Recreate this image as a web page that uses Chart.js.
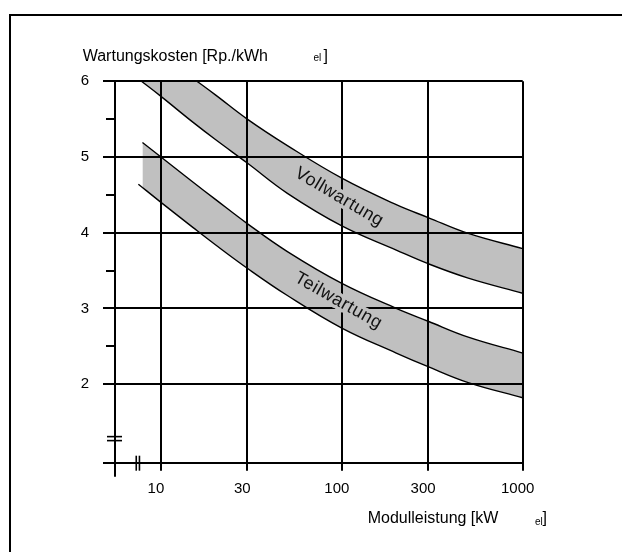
<!DOCTYPE html>
<html><head><meta charset="utf-8">
<script src="https://cdn.jsdelivr.net/npm/chart.js@4/dist/chart.umd.min.js"></script>
<style>
html,body{margin:0;padding:0;background:#fff;}
#wrap{position:relative;width:622px;height:552px;overflow:hidden;}
#frame{position:absolute;left:9px;top:14px;width:700px;height:600px;border-top:2px solid #000;border-left:2px solid #000;pointer-events:none;}
canvas{position:absolute;left:0;top:0;}
</style></head><body>
<div id="wrap"><canvas id="c" width="622" height="552"></canvas><div id="frame"></div></div>
<script>
// ---- data ----
const xVoll = [7.8, 10, 15, 20, 30, 50, 100, 200, 300, 500, 1000];
const vollUpper = [6.55, 6.35, 6.04, 5.82, 5.50, 5.15, 4.72, 4.37, 4.20, 3.99, 3.79];
const vollLower = [6.00, 5.80, 5.46, 5.23, 4.92, 4.52, 4.09, 3.77, 3.59, 3.40, 3.20];
const xTeilUpper = [7.9, 10, 15, 20, 30, 50, 100, 200, 300, 500, 1000];
const teilUpper = [5.19, 5.00, 4.67, 4.44, 4.12, 3.75, 3.33, 3.00, 2.83, 2.62, 2.41];
const xTeilLower = [7.5, 10, 15, 20, 30, 50, 100, 200, 300, 500, 1000];
const teilLower = [4.64, 4.40, 4.07, 3.84, 3.53, 3.17, 2.74, 2.41, 2.23, 2.02, 1.82];
const xTicks = [10, 30, 100, 300, 1000];
const yTicks = [2, 3, 4, 5, 6];
const yMinorTicks = [2.5, 3.5, 4.5, 5.5];
const bandLabels = ['Vollwartung', 'Teilwartung'];
const yTitle = 'Wartungskosten [Rp./kWh';
const xTitle = 'Modulleistung [kW';
const unitSub = 'el';

// ---- axis range / annotation anchors ----
const X_MIN = 5.57, X_MAX = 1000, Y_MIN = 0.962, Y_MAX = 6;
const BREAK_X = 7.45, BREAK_Y = 1.28;
const labelAnchors = [{x: 96.8, y: 4.47, angle: 30.5}, {x: 95.7, y: 3.10, angle: 29.5}];

const pts = (xs, ys) => xs.map((x, i) => ({x, y: ys[i]}));
const BAND = '#c0c0c0';
const FONT = '"Liberation Sans", Arial, sans-serif';

const lineDs = (data, fill) => ({
  data, fill, backgroundColor: BAND, borderColor: '#000', borderWidth: 1.4,
  pointRadius: 0, tension: 0.4, clip: 0.7
});

const decor = {
  id: 'decor',
  afterDraw(chart) {
    const {ctx, chartArea: a, scales: {x, y}} = chart;
    ctx.save();
    ctx.strokeStyle = '#000';
    ctx.lineWidth = 2;
    yMinorTicks.forEach(v => {
      const py = Math.round(y.getPixelForValue(v));
      ctx.beginPath(); ctx.moveTo(a.left - 9, py); ctx.lineTo(a.left, py); ctx.stroke();
    });
    ctx.beginPath(); ctx.moveTo(Math.round(a.left), a.bottom); ctx.lineTo(Math.round(a.left), a.bottom + 14); ctx.stroke();
    // axis breaks
    ctx.lineWidth = 1.6;
    const by = y.getPixelForValue(BREAK_Y);
    [-2, 2].forEach(d => {
      ctx.beginPath(); ctx.moveTo(a.left - 8, by + d); ctx.lineTo(a.left + 7, by + d); ctx.stroke();
    });
    const bx = x.getPixelForValue(BREAK_X);
    [-1.6, 1.6].forEach(d => {
      ctx.beginPath(); ctx.moveTo(bx + d, a.bottom - 7); ctx.lineTo(bx + d, a.bottom + 8); ctx.stroke();
    });
    // band labels
    ctx.font = '18px ' + FONT;
    ctx.textAlign = 'center';
    ctx.textBaseline = 'middle';
    try { ctx.letterSpacing = '0.6px'; } catch (e) {}
    bandLabels.forEach((t, i) => {
      const an = labelAnchors[i];
      ctx.save();
      ctx.translate(x.getPixelForValue(an.x), y.getPixelForValue(an.y));
      ctx.rotate(an.angle * Math.PI / 180);
      ctx.lineJoin = 'round';
      ctx.lineWidth = 7;
      ctx.strokeStyle = BAND;
      ctx.strokeText(t, 0, 0);
      ctx.fillStyle = '#111';
      ctx.fillText(t, 0, 0);
      ctx.restore();
    });
    try { ctx.letterSpacing = '0px'; } catch (e) {}
    // axis titles
    ctx.textAlign = 'left';
    ctx.textBaseline = 'alphabetic';
    ctx.fillStyle = '#000';
    ctx.font = '16px ' + FONT;
    ctx.fillText(yTitle, 82.7, 61);
    ctx.fillText(']', 323.5, 61);
    ctx.fillText(xTitle, 367.7, 522.5);
    ctx.fillText(']', 542.5, 522.5);
    ctx.font = '10px ' + FONT;
    ctx.fillText(unitSub, 313.5, 61);
    ctx.fillText(unitSub, 535, 525);
    ctx.restore();
  }
};

new Chart(document.getElementById('c'), {
  type: 'line',
  data: {
    datasets: [
      lineDs(pts(xVoll, vollLower), false),
      lineDs(pts(xVoll, vollUpper), '-1'),
      lineDs(pts(xTeilLower, teilLower), false),
      lineDs(pts(xTeilUpper, teilUpper), '-1')
    ]
  },
  options: {
    responsive: false,
    animation: false,
    layout: {padding: {left: 0, right: 99.3, top: 81.24, bottom: 0}},
    plugins: {legend: {display: false}, tooltip: {enabled: false}},
    scales: {
      x: {
        type: 'logarithmic', min: X_MIN, max: X_MAX,
        afterBuildTicks: s => { s.ticks = xTicks.map(v => ({value: v})); },
        afterFit: s => { s.height = 89.3; },
        grid: {color: '#000', lineWidth: 2, tickLength: 8, tickColor: '#000', tickWidth: 2, z: 1},
        border: {display: true, color: '#000', width: 2, z: 1},
        ticks: {autoSkip: false, maxRotation: 0, padding: 9, labelOffset: -5, color: '#000',
          font: {family: FONT, size: 15}, callback: v => String(v)}
      },
      y: {
        type: 'linear', min: Y_MIN, max: Y_MAX,
        afterBuildTicks: s => { s.ticks = [Y_MIN, ...yTicks].map(v => ({value: v})); },
        afterFit: s => { s.width = 115; },
        grid: {color: '#000', lineWidth: 2, tickLength: 12, tickColor: '#000', tickWidth: 2, z: 1},
        border: {display: true, color: '#000', width: 2, z: 1},
        ticks: {padding: 14, color: '#000', font: {family: FONT, size: 15},
          callback: v => yTicks.includes(v) ? String(v) : ''}
      }
    }
  },
  plugins: [decor]
});
</script>
</body></html>
